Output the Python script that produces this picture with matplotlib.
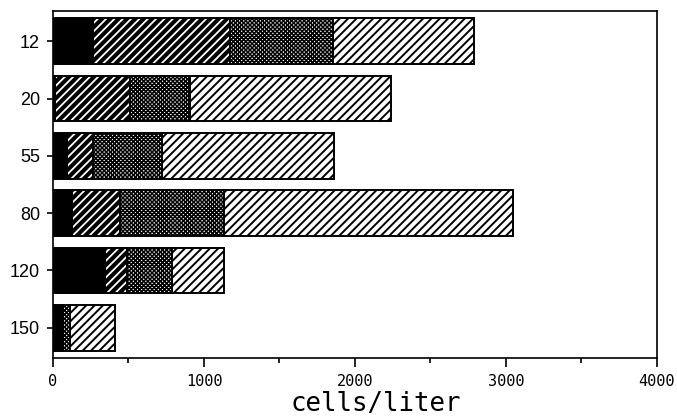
import matplotlib
matplotlib.use("Agg")
import matplotlib.pyplot as plt
import numpy as np

# Depth categories (top to bottom) and cell counts per group (cells/liter)
depths = ["12", "20", "55", "80", "120", "150"]
group_solid = [265, 15, 93, 125, 345, 65]
group_dense = [910, 495, 172, 320, 145, 0]
group_dotted = [680, 400, 460, 685, 300, 48]
group_light = [935, 1330, 1135, 1920, 345, 297]

x_ticks = [0, 1000, 2000, 3000, 4000]

fig = plt.figure(figsize=(6.77, 4.16), dpi=100)
ax = fig.add_axes([0.0783, 0.139, 0.892, 0.835])

y = np.arange(len(depths))
height = 0.8

styles = [
    # (values, facecolor, hatch colour, hatch, hatch linewidth)
    (group_solid, "black", "black", "", 1.0),
    (group_dense, "black", "white", "////", 1.3),
    (group_dotted, "white", "black", "xxxxxxxx", 1.12),
    (group_light, "white", "black", "////", 1.4),
]

left = np.zeros(len(depths))
for vals, fc, hc, hatch, hlw in styles:
    vals = np.array(vals, dtype=float)
    bars = ax.barh(y, vals, left=left, height=height, color=fc,
                   edgecolor=hc, hatch=hatch, linewidth=0)
    for b in bars:
        if hasattr(b, "set_hatch_linewidth"):
            b.set_hatch_linewidth(hlw)
    # black outlines for each segment
    ax.barh(y, vals, left=left, height=height, fill=False,
            edgecolor="black", linewidth=1.4)
    left += vals

ax.set_ylim(len(depths) - 0.47, -0.53)
ax.set_xlim(0, 4000)
ax.set_yticks(y)
ax.set_yticklabels(depths, fontsize=13, family="Liberation Sans")
ax.set_xticks(x_ticks)
ax.set_xticklabels([str(t) for t in x_ticks], fontsize=11,
                   family="DejaVu Sans Mono")
ax.set_xticks(np.arange(500, 4000, 1000), minor=True)
ax.tick_params(axis="x", which="major", direction="out", length=6.5,
               width=1.2, pad=5)
ax.tick_params(axis="x", which="minor", direction="out", length=3.5,
               width=1.2)
ax.tick_params(axis="y", direction="out", length=4.3, width=1.2, pad=5)

for sp in ax.spines.values():
    sp.set_linewidth(1.2)

fig.text(0.555, 0.012, "cells/liter", ha="center", va="baseline",
         fontsize=18.5, family="DejaVu Sans Mono")

fig.savefig("out.png", dpi=100)
